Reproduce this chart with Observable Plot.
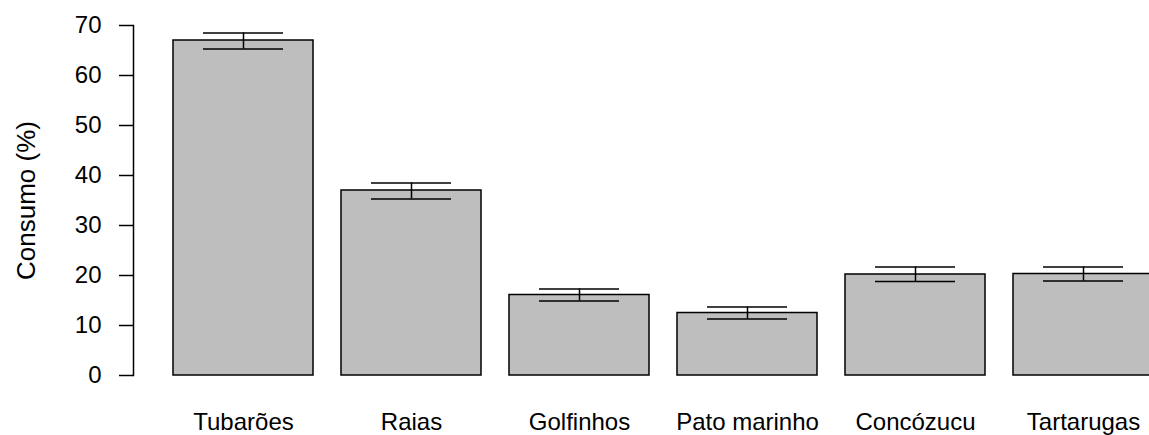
<!DOCTYPE html>
<html><head><meta charset="utf-8">
<script src="https://cdn.jsdelivr.net/npm/d3@7"></script>
<script src="https://cdn.jsdelivr.net/npm/@observablehq/plot@0.6"></script>
<style>html,body{margin:0;padding:0;background:#fff;overflow:hidden}</style>
</head><body><div id="chart"></div>
<script>
const categories = ["Tubarões", "Raias", "Golfinhos", "Pato marinho", "Concózucu", "Tartarugas"];
const consumo = [67.0, 37.0, 16.1, 12.5, 20.2, 20.3];
const lower = [65.3, 35.3, 14.9, 11.3, 18.8, 18.9];
const upper = [68.5, 38.5, 17.3, 13.7, 21.7, 21.7];
const yTicks = [0, 10, 20, 30, 40, 50, 60, 70];
const yLabel = "Consumo (%)";

const data = categories.map((c, i) => ({cat: c, v: consumo[i], lo: lower[i], hi: upper[i]}));

const plot = Plot.plot({
  width: 1149, height: 435,
  marginTop: 25, marginBottom: 60, marginLeft: 133, marginRight: 0,
  style: {fontFamily: "'Liberation Sans', Arial, sans-serif", fontSize: "24px", color: "black", background: "white"},
  x: {type: "band", domain: categories, range: [132, 1193], paddingInner: 1/6, paddingOuter: 0.2333, align: 0.5},
  y: {domain: [0, 70], range: [375, 25]},
  marks: [
    Plot.barY(data, {x: "cat", y: "v", fill: "#BEBEBE", stroke: "black", strokeWidth: 1.5}),
    Plot.ruleX(data, {x: "cat", y1: "lo", y2: "hi", stroke: "black", strokeWidth: 1.5}),
    Plot.tickY(data, {x: "cat", y: "lo", insetLeft: 30, insetRight: 30, stroke: "black", strokeWidth: 1.5}),
    Plot.tickY(data, {x: "cat", y: "hi", insetLeft: 30, insetRight: 30, stroke: "black", strokeWidth: 1.5}),
    Plot.axisY({ticks: yTicks, tickSize: 14, tickPadding: 18, tickFormat: d => d, label: null, strokeWidth: 1.5, fontSize: 24}),
    Plot.axisY({ticks: [], label: yLabel, labelAnchor: "center", labelArrow: "none", labelOffset: 117, fontSize: 26}),
    Plot.frame({anchor: "left", strokeWidth: 1.5}),
    Plot.axisX({tickSize: 0, tickPadding: 37, label: null, fontSize: 24})
  ]
});
document.getElementById("chart").appendChild(plot);
</script>
</body></html>
